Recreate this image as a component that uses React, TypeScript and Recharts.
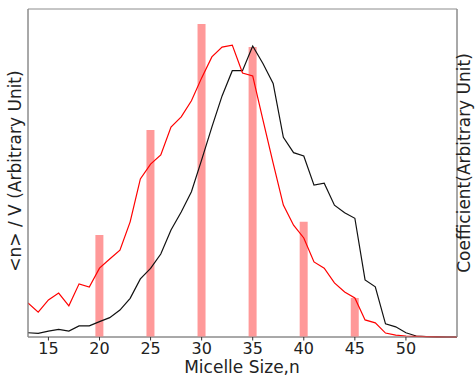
import { ComposedChart, Bar, Line, XAxis, YAxis, ReferenceArea, Label } from 'recharts';

// micelle size n
const sizes = [13, 14, 15, 16, 17, 18, 19, 20, 21, 22, 23, 24, 25, 26, 27, 28, 29, 30, 31, 32, 33, 34,
  35, 36, 37, 38, 39, 40, 41, 42, 43, 44, 45, 46, 47, 48, 49, 50, 51, 52, 53, 54, 55];

// <n>/V, red curve
const redCurve = [10.4, 7.6, 11.3, 13.4, 9.5, 16.2, 15.2, 21.0, 23.8, 26.5, 35.1, 48.2, 52.7, 55.5, 64.0,
  67.1, 72.0, 79.0, 85.4, 88.4, 89.0, 80.5, 79.6, 66.2, 53.0, 40.2, 34.1, 30.2, 22.9, 21.0, 16.5, 13.7,
  11.9, 5.2, 4.3, 1.2, 0.6, 0.3, 0.2, 0.1, 0.05, 0, 0];

// <n>/V, black curve
const blackCurve = [1.3, 1.1, 1.8, 2.3, 1.8, 3.4, 3.4, 4.7, 5.9, 8.2, 11.8, 17.7, 20.9, 25.3, 32.6, 38.1,
  44.3, 54.0, 64.0, 73.5, 81.2, 81.2, 88.7, 83.4, 77.3, 60.9, 56.2, 55.2, 46.3, 46.9, 40.2, 37.9, 36.2,
  17.4, 15.3, 4.0, 3.1, 1.3, 0.3, 0.1, 0.05, 0, 0];

// coefficients (bars)
const coefSizes = [20, 25, 30, 35, 40, 45];
const coefValues = [31.1, 63.1, 95.4, 88.4, 35.1, 11.9];

const xTicks = [15, 20, 25, 30, 35, 40, 45, 50];

const data = sizes.map((n, i) => {
  const k = coefSizes.indexOf(n);
  return {
    n,
    red: redCurve[i],
    black: blackCurve[i],
    coef: k >= 0 ? coefValues[k] : null,
  };
});

const font = "'DejaVu Sans', sans-serif";
const frame = '#8c8c8c';

export default function App() {
  return (
    <div style={{ position: 'absolute', left: 0, top: 0, width: 475, height: 376, background: '#fff' }}>
      <ComposedChart
        width={475}
        height={376}
        data={data}
        margin={{ top: 9, right: 0, bottom: 9, left: 0 }}
      >
        <XAxis
          dataKey="n"
          type="number"
          domain={[13, 55]}
          ticks={xTicks}
          allowDataOverflow
          height={30}
          axisLine={{ stroke: frame }}
          tickLine={{ stroke: '#333' }}
          tickSize={3.5}
          tick={{ fill: '#222', fontSize: 16, fontFamily: font }}
        >
          <Label
            content={() => (
              <text x={242} y={373} textAnchor="middle" fontSize={17} fontFamily={font} fill="#222">
                Micelle Size,n
              </text>
            )}
          />
        </XAxis>
        <YAxis
          yAxisId="left"
          width={28}
          domain={[0, 100]}
          tick={false}
          tickLine={false}
          axisLine={{ stroke: frame }}
        >
          <Label
            content={() => (
              <text
                x={21}
                y={171}
                transform="rotate(-90 21 171)"
                textAnchor="middle"
                fontSize={17}
                fontFamily={font}
                fill="#222"
              >
                {'<n> / V (Arbitrary Unit)'}
              </text>
            )}
          />
        </YAxis>
        <YAxis
          yAxisId="right"
          orientation="right"
          width={18}
          domain={[0, 100]}
          tick={false}
          tickLine={false}
          axisLine={{ stroke: frame }}
        >
          <Label
            content={() => (
              <text
                x={470}
                y={163}
                transform="rotate(-90 470 163)"
                textAnchor="middle"
                fontSize={17}
                fontFamily={font}
                fill="#222"
              >
                Coefficient(Arbitrary Unit)
              </text>
            )}
          />
        </YAxis>
        <ReferenceArea yAxisId="left" x1={13} x2={55} y1={0} y2={100} fill="none" stroke={frame} strokeWidth={1} />
        <Bar yAxisId="right" dataKey="coef" fill="#ff9999" barSize={8} isAnimationActive={false} />
        <Line
          yAxisId="left"
          type="linear"
          dataKey="black"
          stroke="#111"
          strokeWidth={1.2}
          dot={false}
          isAnimationActive={false}
        />
        <Line
          yAxisId="left"
          type="linear"
          dataKey="red"
          stroke="#ff0000"
          strokeWidth={1.2}
          dot={false}
          isAnimationActive={false}
        />
      </ComposedChart>
    </div>
  );
}
